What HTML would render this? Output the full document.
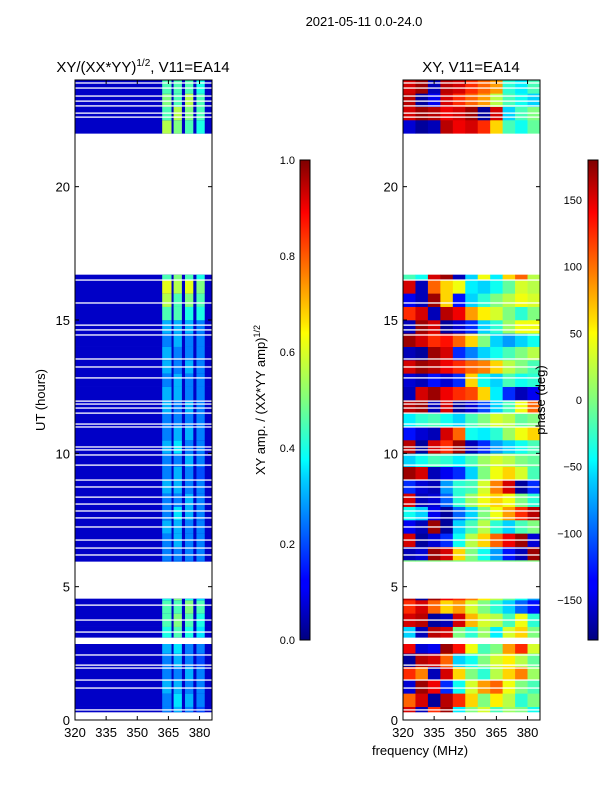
<!DOCTYPE html>
<html><head><meta charset="utf-8"><style>
body{margin:0;background:#fff;}
svg{display:block;font-family:"Liberation Sans","DejaVu Sans",sans-serif;}
</style></head><body>
<svg id="fig" width="600" height="800" viewBox="0 0 600 800">
<rect width="600" height="800" fill="#fff"/>
<defs>
<linearGradient id="jet" x1="0" y1="1" x2="0" y2="0">
<stop offset="0" stop-color="#00007f"/><stop offset="0.11" stop-color="#0000ff"/><stop offset="0.125" stop-color="#0000ff"/>
<stop offset="0.34" stop-color="#00d4ff"/><stop offset="0.375" stop-color="#00ffff"/><stop offset="0.5" stop-color="#7fff7f"/>
<stop offset="0.64" stop-color="#ffff00"/><stop offset="0.66" stop-color="#ffe600"/><stop offset="0.89" stop-color="#ff0000"/><stop offset="1" stop-color="#7f0000"/>
</linearGradient>
</defs>
<text x="364" y="26" font-size="13" text-anchor="middle">2021-05-11 0.0-24.0</text>
<text x="143" y="72" font-size="15" text-anchor="middle">XY/(XX*YY)<tspan font-size="10" dy="-6">1/2</tspan><tspan dy="6">, V11=EA14</tspan></text>
<text x="471" y="72" font-size="15" text-anchor="middle">XY, V11=EA14</text>
<g id="left"></g>
<g id="right"></g>
<g id="axes"></g>
<rect x="300" y="160" width="10" height="480" fill="url(#jet)" stroke="#000" stroke-width="1"/>
<rect x="588" y="160" width="10" height="480" fill="url(#jet)" stroke="#000" stroke-width="1"/>
<text transform="translate(265,400) rotate(-90)" font-size="13" text-anchor="middle">XY amp. / (XX*YY amp)<tspan font-size="9" dy="-5">1/2</tspan></text>
<text transform="translate(545,400) rotate(-90)" font-size="13" text-anchor="middle">phase (deg)</text>
<text transform="translate(45,400) rotate(-90)" font-size="13" text-anchor="middle">UT (hours)</text>
<text x="420" y="755" font-size="13" text-anchor="middle">frequency (MHz)</text>
</svg>
<script>
const blocks=[[0.3,2.85],[3.1,4.55],[5.95,16.7],[22.0,24.0]];
const gapHours=[0.38,1.2,1.5,1.95,2.06,2.44,3.3,3.75,4.31,6.19,6.45,6.75,7.24,7.58,7.84,8.1,8.36,8.74,9.0,9.56,9.94,10.13,10.24,10.99,11.1,11.51,11.7,11.85,11.96,12.83,13.24,13.54,14.44,14.63,14.81,15.64,16.5,22.61,22.76,23.03,23.21,23.4,23.7,23.89];
const xTicks=[320,335,350,365,380];
const yTicks=[0,5,10,15,20];
const ampTicks=[0.0,0.2,0.4,0.6,0.8,1.0];
const phaseTicks=[-150,-100,-50,0,50,100,150];
const subbandEdges=[[362,366.5],[367.5,371.5],[373,377],[378.5,382.5]];
const ampBase=0.07;
const amp1=[0.25,0.25,0.3,0.25,0.25,0.3,0.4,0.45,0.45,0.4,0.35,0.25,0.25,0.25,0.3,0.25,0.25,0.3,0.25,0.25,0.3,0.25,0.25,0.3,0.3,0.25,0.3,0.3,0.25,0.3,0.45,0.55,0.6,0.45,0.25,0.25,0.25,0.25,0.25,0.25,0.25,0.25,0.25,0.25,0.55,0.45,0.5,0.45];
const amp2=[0.3,0.35,0.3,0.25,0.3,0.35,0.45,0.5,0.45,0.5,0.35,0.25,0.25,0.3,0.3,0.35,0.25,0.3,0.3,0.25,0.35,0.3,0.25,0.25,0.3,0.3,0.25,0.25,0.3,0.3,0.45,0.45,0.55,0.5,0.25,0.25,0.25,0.25,0.25,0.25,0.25,0.25,0.25,0.25,0.5,0.55,0.45,0.45];
const amp3=[0.25,0.3,0.25,0.3,0.25,0.25,0.4,0.45,0.5,0.4,0.35,0.25,0.25,0.25,0.25,0.3,0.3,0.25,0.25,0.3,0.25,0.3,0.25,0.3,0.25,0.25,0.3,0.25,0.25,0.3,0.4,0.5,0.6,0.45,0.25,0.25,0.25,0.25,0.25,0.25,0.25,0.25,0.25,0.25,0.45,0.5,0.55,0.45];
const amp4=[0.2,0.25,0.25,0.25,0.2,0.25,0.35,0.4,0.45,0.35,0.3,0.25,0.25,0.25,0.25,0.25,0.25,0.25,0.2,0.25,0.25,0.25,0.25,0.25,0.25,0.25,0.25,0.25,0.25,0.25,0.4,0.45,0.5,0.4,0.25,0.25,0.25,0.25,0.25,0.25,0.25,0.25,0.25,0.25,0.4,0.45,0.45,0.4];
const phaseFreqBins=[320,326,332,338,344,350,356,362,368,374,380,386];
const phase=[
[150,-160,120,170,-50,0,30,-20,10,0,-40],
[100,150,-170,160,120,60,0,50,20,-30,0],
[-150,170,140,-120,-40,30,80,100,40,0,-20],
[120,90,-160,150,60,0,-30,20,60,90,10],
[-170,160,150,100,-60,-40,0,30,50,20,-10],
[140,-150,-140,170,130,40,-20,0,80,120,30],
[-60,-160,160,150,0,-30,10,-50,30,60,0],
[150,160,-170,-160,150,70,30,20,-20,40,-30],
[120,150,100,60,80,30,0,-30,-60,-100,-130],
[160,-170,170,140,120,90,50,20,-10,-40,-80],
[-50,-20,10,40,20,-30,-60,-40,0,30,20],
[0,0,0,0,0,0,0,0,0,0,0],
[-160,-150,170,150,60,0,-40,-80,-130,-160,170],
[150,-170,-150,-120,-40,20,60,100,140,170,-150],
[-140,-160,170,-170,-60,-20,20,-30,-60,-20,0],
[-40,-60,-140,-170,-100,-60,0,40,80,120,160],
[150,-160,-150,-100,-30,10,40,60,40,0,-30],
[-120,-150,-160,-80,-30,-20,30,90,150,-170,-120],
[170,150,-160,-140,-120,-60,0,40,60,30,-20],
[-60,-40,-20,-30,-50,-20,10,30,20,0,-10],
[160,-170,150,120,170,-160,-120,-80,-60,-40,-20],
[-130,-150,-160,150,100,-40,-50,-30,10,40,60],
[-50,-30,-20,-40,-60,-20,0,30,20,-10,0],
[160,170,-160,150,-170,-150,-110,-60,-20,40,100],
[-160,150,170,140,120,110,60,-50,-120,-160,-140],
[-150,-160,-130,-150,-120,60,-40,-60,-20,-40,-30],
[150,170,160,140,120,100,90,60,20,0,-20],
[-160,-170,170,150,-120,-90,-60,-40,-20,0,20],
[170,150,120,130,100,60,0,-60,-80,-60,-40],
[-160,170,150,-170,-150,-120,-60,-30,10,40,40],
[120,150,-160,160,140,80,50,30,0,-30,0],
[-140,-160,170,60,-130,-60,-30,0,20,40,30],
[150,-160,100,60,40,-50,-60,-40,-10,30,20],
[-20,-40,150,170,-160,-60,40,-50,60,100,20],
[0,0,0,0,0,0,0,0,0,0,0],[0,0,0,0,0,0,0,0,0,0,0],[0,0,0,0,0,0,0,0,0,0,0],[0,0,0,0,0,0,0,0,0,0,0],
[0,0,0,0,0,0,0,0,0,0,0],[0,0,0,0,0,0,0,0,0,0,0],[0,0,0,0,0,0,0,0,0,0,0],[0,0,0,0,0,0,0,0,0,0,0],
[0,0,0,0,0,0,0,0,0,0,0],[0,0,0,0,0,0,0,0,0,0,0],
[-150,-170,-160,160,140,150,120,60,-20,-40,-10],
[150,170,160,140,150,170,-170,150,-60,-20,0],
[160,-170,-140,150,120,100,80,20,-20,-40,-60],
[150,170,-160,160,150,120,100,80,-30,-50,-20]];

const NS='http://www.w3.org/2000/svg';
const T0=80,T1=720,F0=320,F1=386;
const yS=h=>T1-(h/24)*(T1-T0);
const xL=f=>75+(f-F0)/(F1-F0)*137;
const xR=f=>403+(f-F0)/(F1-F0)*137;
function jet(v){v=Math.max(0,Math.min(1,v));
 const r=Math.min(4*v-1.5,-4*v+4.5),g=Math.min(4*v-0.5,-4*v+3.5),b=Math.min(4*v+0.5,-4*v+2.5);
 const c=x=>Math.round(255*Math.max(0,Math.min(1,x)));return `rgb(${c(r)},${c(g)},${c(b)})`;}
function mk(p,tag,at){const e=document.createElementNS(NS,tag);for(const k in at)e.setAttribute(k,at[k]);p.appendChild(e);return e;}
const L=document.getElementById('left'),R=document.getElementById('right'),A=document.getElementById('axes');
const ampSeries=[amp1,amp2,amp3,amp4];
blocks.forEach(b=>{
 for(let i=0;i<48;i++){
  const h0=Math.max(i*0.5,b[0]),h1=Math.min(i*0.5+0.5,b[1]);if(h1<=h0)continue;
  const y=yS(h1),hh=yS(h0)-yS(h1);
  let r=mk(L,'rect',{x:75,y:y,width:137,height:hh+0.3,fill:jet(ampBase)});
  
  
  subbandEdges.forEach((s,k)=>{
   const c=mk(L,'rect',{x:xL(s[0]),y:y,width:xL(s[1])-xL(s[0]),height:hh+0.3,fill:jet(ampSeries[k][i])});
   
   
  });
  for(let j=0;j<11;j++){
   const c=mk(R,'rect',{x:xR(phaseFreqBins[j]),y:y,width:xR(phaseFreqBins[j+1])-xR(phaseFreqBins[j])+0.3,height:hh+0.3,fill:jet((phase[i][j]+180)/360)});
   
   
  }
 }
});
gapHours.forEach(h=>{
 [[75,L],[403,R]].forEach(([x0,g])=>{
  const l=mk(g,'rect',{x:x0,y:yS(h)-0.6,width:137,height:1.3,fill:'#fff'});
  
  
 });
});
[75,403].forEach(x0=>{
 const f=mk(A,'rect',{x:x0,y:T0,width:137,height:T1-T0,fill:'none',stroke:'#000','stroke-width':1});
 
 
 const xs=x0===75?xL:xR;
 xTicks.forEach(t=>{
  const x=xs(t);
  mk(A,'line',{x1:x,y1:T1,x2:x,y2:T1-4,stroke:'#000'});
  mk(A,'line',{x1:x,y1:T0,x2:x,y2:T0+4,stroke:'#000'});
  const tx=mk(A,'text',{x:x,y:T1+17,'font-size':13,'text-anchor':'middle'});tx.textContent=t;
  
  
 });
 yTicks.forEach(t=>{
  const y=yS(t);
  mk(A,'line',{x1:x0,y1:y,x2:x0+4,y2:y,stroke:'#000'});
  mk(A,'line',{x1:x0+137,y1:y,x2:x0+133,y2:y,stroke:'#000'});
  const tx=mk(A,'text',{x:x0-5,y:y+5,'font-size':13,'text-anchor':'end'});tx.textContent=t;
  
  
 });
});
ampTicks.forEach(t=>{
 const y=640-t*480;
 mk(A,'line',{x1:300,y1:y,x2:304,y2:y,stroke:'#000'});
 const tx=mk(A,'text',{x:295,y:y+4,'font-size':11,'text-anchor':'end'});tx.textContent=t.toFixed(1);
 
 
});
phaseTicks.forEach(t=>{
 const y=640-(t+180)/360*480;
 mk(A,'line',{x1:588,y1:y,x2:592,y2:y,stroke:'#000'});
 const tx=mk(A,'text',{x:582,y:y+4,'font-size':11,'text-anchor':'end'});tx.textContent=t<0?'\u2212'+(-t):t;
 
 
});
</script>
</body></html>
